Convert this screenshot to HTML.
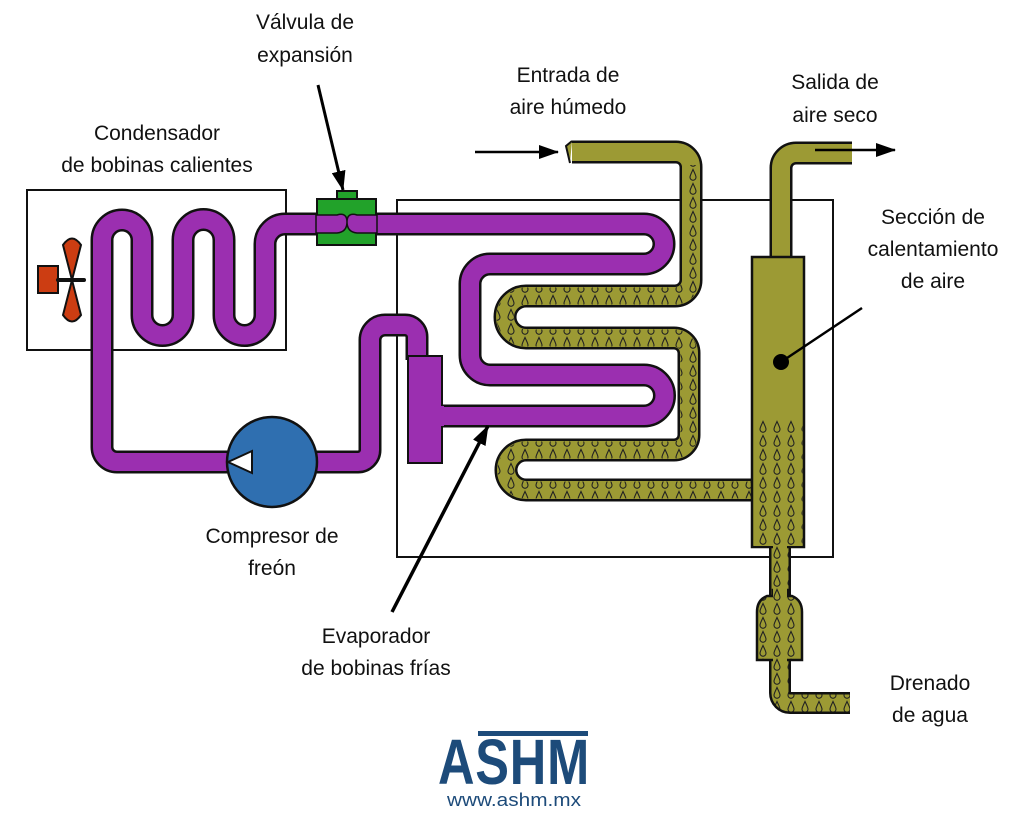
<!DOCTYPE html>
<html><head><meta charset="utf-8"><style>
html,body{margin:0;padding:0;background:#fff;}
svg{display:block;}
text{font-family:"Liberation Sans",sans-serif;font-size:21px;fill:#111;}
</style></head><body>
<svg width="1024" height="838" viewBox="0 0 1024 838" xmlns="http://www.w3.org/2000/svg">
<defs>
<pattern id="drops" width="14" height="14" patternUnits="userSpaceOnUse">
<rect width="14" height="14" fill="#9c9a34"/>
<path d="M7 1.5 C5.2 5.5 4 7.5 4 9.3 A3 3 0 0 0 10 9.3 C10 7.5 8.8 5.5 7 1.5 Z" fill="none" stroke="#222" stroke-width="1.1"/>
</pattern>
<marker id="ah" viewBox="0 0 20 14" refX="19" refY="7" markerWidth="20" markerHeight="14" markerUnits="userSpaceOnUse" orient="auto"><path d="M0 0 L20 7 L0 14 Z" fill="#000"/></marker>
</defs>

<rect x="27" y="190" width="259" height="160" fill="none" stroke="#111" stroke-width="2"/>
<rect x="397" y="200" width="436" height="357" fill="none" stroke="#111" stroke-width="2"/>

<rect x="38" y="266" width="20" height="27" fill="#cc3d12" stroke="#111" stroke-width="2"/>
<line x1="58" y1="280" x2="84" y2="280" stroke="#111" stroke-width="4" stroke-linecap="round"/>
<path d="M72 280 L63 245 Q72 232 81 245 Z" fill="#cc3d12" stroke="#111" stroke-width="2"/>
<path d="M72 280 L63 315 Q72 328 81 315 Z" fill="#cc3d12" stroke="#111" stroke-width="2"/>

<g fill="none" stroke-linejoin="round">
<path d="M240 462 L117 462 A15 15 0 0 1 102 447 L102 240 A20 20 0 0 1 142 240 L142 315 A20.5 20.5 0 0 0 183 315 L183 240 A20.5 20.5 0 0 1 224 240 L224 315 A20.5 20.5 0 0 0 265 315 L265 244 A20 20 0 0 1 285 224 L644 224 A20 20 0 0 1 644 264 L490 264 A20 20 0 0 0 470 284 L470 355 A20 20 0 0 0 490 375 L644 375 A20.5 20.5 0 0 1 644 416 L435 416" stroke="#111" stroke-width="23"/>
<path d="M240 462 L117 462 A15 15 0 0 1 102 447 L102 240 A20 20 0 0 1 142 240 L142 315 A20.5 20.5 0 0 0 183 315 L183 240 A20.5 20.5 0 0 1 224 240 L224 315 A20.5 20.5 0 0 0 265 315 L265 244 A20 20 0 0 1 285 224 L644 224 A20 20 0 0 1 644 264 L490 264 A20 20 0 0 0 470 284 L470 355 A20 20 0 0 0 490 375 L644 375 A20.5 20.5 0 0 1 644 416 L435 416" stroke="#9b2fb0" stroke-width="18"/>
<path d="M310 462 L358 462 A12 12 0 0 0 370 450 L370 340 A15 15 0 0 1 385 325 L405 325 A12 12 0 0 1 417 337 L417 360" stroke="#111" stroke-width="23"/>
<path d="M310 462 L358 462 A12 12 0 0 0 370 450 L370 340 A15 15 0 0 1 385 325 L405 325 A12 12 0 0 1 417 337 L417 360" stroke="#9b2fb0" stroke-width="18"/>
</g>
<rect x="408" y="356" width="34" height="107" fill="#9b2fb0" stroke="#111" stroke-width="2"/>
<rect x="430" y="406" width="14" height="20" fill="#9b2fb0"/>

<circle cx="272" cy="462" r="45" fill="#2f6fb0" stroke="#111" stroke-width="2.5"/>
<path d="M228 462 L252 451 L252 473 Z" fill="#fff" stroke="#111" stroke-width="2"/>

<rect x="337" y="191" width="20" height="9" fill="#22a22a" stroke="#111" stroke-width="2"/>
<rect x="317" y="199" width="59" height="46" fill="#22a22a" stroke="#111" stroke-width="2"/>
<path d="M316 215 L337 215 Q347 212 347 222 Q347 232 337 233 L316 233 Z M377 215 L357 215 Q347 212 347 222 Q347 232 357 233 L377 233 Z" fill="#9b2fb0" stroke="#111" stroke-width="1.5"/>

<g fill="none" stroke-linejoin="round">
<path d="M572 152 L676 152 A15 15 0 0 1 691 167 L691 280 A16 16 0 0 1 675 296 L526 296 A21 21 0 0 0 526 338 L674 338 A15 15 0 0 1 689 353 L689 435 A15 15 0 0 1 674 450 L526 450 A20 20 0 0 0 526 490 L760 490" stroke="#111" stroke-width="23"/>
<path d="M572 152 L676 152 A15 15 0 0 1 691 167 L691 280 A16 16 0 0 1 675 296 L526 296 A21 21 0 0 0 526 338 L674 338 A15 15 0 0 1 689 353 L689 435 A15 15 0 0 1 674 450 L526 450 A20 20 0 0 0 526 490 L760 490" stroke="#9c9a34" stroke-width="18"/>
<path d="M691 165 L691 280 A16 16 0 0 1 675 296 L526 296 A21 21 0 0 0 526 338 L674 338 A15 15 0 0 1 689 353 L689 435 A15 15 0 0 1 674 450 L526 450 A20 20 0 0 0 526 490 L760 490" stroke="url(#drops)" stroke-width="17"/>
<path d="M781 262 L781 168 A15 15 0 0 1 796 153 L852 153" stroke="#111" stroke-width="23"/>
<path d="M781 262 L781 168 A15 15 0 0 1 796 153 L852 153" stroke="#9c9a34" stroke-width="18"/>
<path d="M780 540 L780 693 A10 10 0 0 0 790 703 L850 703" stroke="#111" stroke-width="22"/>
<path d="M780 540 L780 693 A10 10 0 0 0 790 703 L850 703" stroke="url(#drops)" stroke-width="17"/>
</g>
<path d="M572 141 L566 146 L570 163" fill="#9c9a34" stroke="#111" stroke-width="2"/>
<rect x="752" y="257" width="52" height="290" fill="#9c9a34" stroke="#111" stroke-width="2.5"/>
<rect x="753.5" y="420" width="49" height="126" fill="url(#drops)"/>
<path d="M757 660 L757 612 Q757 600 767 596 L773 596 L773 590 L788 590 L788 596 L792 596 Q802 600 802 612 L802 660 Z" fill="url(#drops)" stroke="#111" stroke-width="2.5"/>
<rect x="773" y="545" width="14" height="52" fill="url(#drops)"/>
<rect x="773" y="655" width="14" height="10" fill="url(#drops)"/>

<line x1="318" y1="85" x2="343" y2="190" stroke="#000" stroke-width="3" marker-end="url(#ah)"/>
<line x1="475" y1="152" x2="558" y2="152" stroke="#000" stroke-width="2.5" marker-end="url(#ah)"/>
<line x1="815" y1="150" x2="895" y2="150" stroke="#000" stroke-width="2.5" marker-end="url(#ah)"/>
<line x1="392" y1="612" x2="488" y2="426" stroke="#000" stroke-width="3.5" marker-end="url(#ah)"/>
<line x1="862" y1="308" x2="781" y2="362" stroke="#000" stroke-width="2.5"/>
<circle cx="781" cy="362" r="8" fill="#000"/>

<g text-anchor="middle">
<text x="305" y="29">Válvula de</text><text x="305" y="62">expansión</text>
<text x="157" y="140">Condensador</text><text x="157" y="172">de bobinas calientes</text>
<text x="568" y="82">Entrada de</text><text x="568" y="114">aire húmedo</text>
<text x="835" y="89">Salida de</text><text x="835" y="122">aire seco</text>
<text x="933" y="224">Sección de</text><text x="933" y="256">calentamiento</text><text x="933" y="288">de aire</text>
<text x="272" y="543">Compresor de</text><text x="272" y="575">freón</text>
<text x="376" y="643">Evaporador</text><text x="376" y="675">de bobinas frías</text>
<text x="930" y="690">Drenado</text><text x="930" y="722">de agua</text>
</g>

<text x="438" y="784" style="font-size:64px;font-weight:bold;fill:#1d4b7a;letter-spacing:1px" textLength="152" lengthAdjust="spacingAndGlyphs">ASHM</text>
<rect x="478" y="731" width="110" height="5" fill="#1d4b7a"/>
<text x="447" y="806" style="font-size:18px;fill:#1d4b7a" textLength="134" lengthAdjust="spacingAndGlyphs">www.ashm.mx</text>
</svg>
</body></html>
